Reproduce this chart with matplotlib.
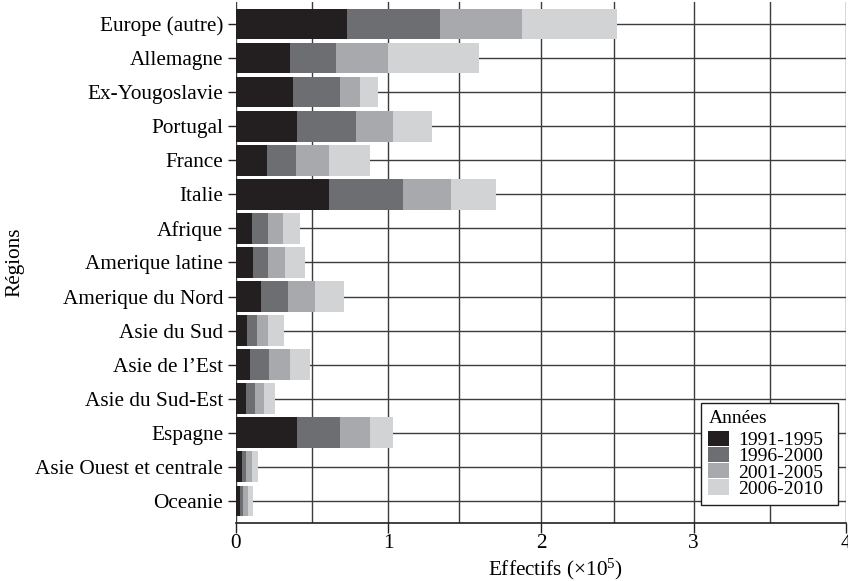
import matplotlib
matplotlib.use("Agg")
import matplotlib.pyplot as plt
import numpy as np

plt.rcParams['font.family'] = ['Liberation Serif', 'DejaVu Serif']
plt.rcParams['mathtext.fontset'] = 'custom'
plt.rcParams['mathtext.rm'] = 'Liberation Serif'
plt.rcParams['mathtext.it'] = 'Liberation Serif:italic'

regions = ["Europe (autre)", "Allemagne", "Ex-Yougoslavie", "Portugal", "France",
           "Italie", "Afrique", "Amerique latine", "Amerique du Nord", "Asie du Sud",
           "Asie de l\u2019Est", "Asie du Sud-Est", "Espagne", "Asie Ouest et centrale",
           "Oceanie"]
periods = ["1991-1995", "1996-2000", "2001-2005", "2006-2010"]

p1991 = [0.728, 0.354, 0.374, 0.400, 0.203, 0.610, 0.105, 0.111, 0.164, 0.072, 0.092, 0.066, 0.400, 0.039, 0.026]
p1996 = [0.610, 0.302, 0.308, 0.387, 0.190, 0.485, 0.105, 0.099, 0.177, 0.066, 0.124, 0.059, 0.282, 0.027, 0.020]
p2001 = [0.537, 0.341, 0.131, 0.243, 0.217, 0.315, 0.098, 0.111, 0.177, 0.072, 0.138, 0.059, 0.197, 0.039, 0.033]
p2006 = [0.621, 0.597, 0.118, 0.256, 0.269, 0.295, 0.111, 0.131, 0.190, 0.105, 0.131, 0.072, 0.151, 0.039, 0.032]

colors = ["#231f20", "#6d6e71", "#a7a9ac", "#d1d3d4"]

fig = plt.figure(figsize=(8.48, 5.81), dpi=100)
ax = fig.add_axes([0.278, 0.0998, 0.720, 0.897])

y = np.arange(len(regions))
left = np.zeros(len(regions))
for vals, col, lab in zip([p1991, p1996, p2001, p2006], colors, periods):
    ax.barh(y, vals, left=left, height=0.9, color=col, label=lab, zorder=3)
    left += np.array(vals)

ax.set_xlim(0, 4)
ax.set_ylim(len(regions) - 0.35, -0.65)
ax.set_yticks(y)
ax.set_yticklabels(regions, fontsize=15.3)
ax.set_xticks([0, 1, 2, 3, 4])
ax.set_xticklabels(["0", "1", "2", "3", "4"], fontsize=15.3)
ax.set_xticks([0.5, 1.46, 2.48, 3.5], minor=True)
ax.tick_params(axis='x', which='minor', length=0)
ax.tick_params(axis='x', which='major', length=7, width=1, color='#231f20', pad=1)
ax.tick_params(axis='y', length=6, width=1, color='#231f20', pad=3)

ax.grid(True, which='both', axis='x', color='#3c3c3c', linewidth=1.0, zorder=0)
ax.grid(True, which='major', axis='y', color='#3c3c3c', linewidth=1.0, zorder=0)
ax.set_axisbelow(True)

for s in ['top', 'right', 'left']:
    ax.spines[s].set_visible(False)
ax.spines['bottom'].set_color('#231f20')
ax.spines['bottom'].set_linewidth(1.2)

ax.set_xlabel("Effectifs ($\\times$10$^{5}$)", fontsize=15.3, labelpad=1)
ax.xaxis.set_label_coords(0.523, -0.064)
ax.set_ylabel("Régions", fontsize=15.3, labelpad=8)

leg = ax.legend(title="Années", loc='lower left', bbox_to_anchor=(0.762, 0.0346, 0.225, 0.19),
                mode='expand', borderaxespad=0, fontsize=14, title_fontsize=14, frameon=True,
                fancybox=False, edgecolor='#231f20', framealpha=1,
                labelspacing=-0.12, handlelength=1.08, handleheight=0.84, handletextpad=0.46,
                borderpad=0.38, alignment='left')
leg.get_frame().set_linewidth(1.0)
try:
    leg._legend_box.sep = 2.5
except Exception:
    pass

fig.savefig("out.png", dpi=100)
